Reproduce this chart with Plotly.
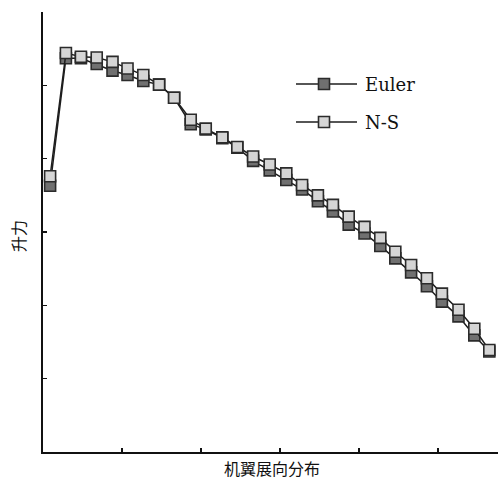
import plotly.graph_objects as go

# ---- data ----
span_pos = [0.09, 0.29, 0.48, 0.68, 0.88, 1.07, 1.27, 1.47, 1.66, 1.87,
            2.06, 2.27, 2.46, 2.66, 2.87, 3.08, 3.28, 3.48, 3.67, 3.87,
            4.07, 4.27, 4.46, 4.66, 4.86, 5.05, 5.26, 5.46, 5.65]
lift_euler = [3.63, 5.37, 5.37, 5.29, 5.20, 5.14, 5.06, 5.01, 4.83, 4.47,
              4.40, 4.28, 4.15, 3.97, 3.84, 3.71, 3.58, 3.42, 3.28, 3.10,
              2.98, 2.81, 2.64, 2.45, 2.26, 2.05, 1.85, 1.59, 1.37]
lift_ns = [3.76, 5.44, 5.39, 5.38, 5.32, 5.23, 5.14, 5.01, 4.83, 4.53,
           4.41, 4.29, 4.16, 4.03, 3.92, 3.80, 3.64, 3.50, 3.37, 3.21,
           3.07, 2.92, 2.73, 2.55, 2.37, 2.16, 1.94, 1.68, 1.39]
x_ticks = [0, 1, 2, 3, 4, 5]
y_ticks = [0, 1, 2, 3, 4, 5, 6]
series_names = ["Euler", "N-S"]
x_title = "机翼展向分布"
y_title = "升力"

# ---- style ----
W, H = 498, 480
ML, MR, MT, MB = 43, 0, 12, 28
LINE_C = "#1e1e1e"
EDGE_C = "#2b2b2b"
FILL = {"Euler": "#707070", "N-S": "#d5d5d5"}
CJK = "Noto Sans CJK SC"


def px_x(px):
    return (px - ML) / (W - ML - MR)


def px_y(py):
    return (H - MB - py) / (H - MT - MB)


fig = go.Figure()
for name, vals in zip(series_names, [lift_euler, lift_ns]):
    fig.add_trace(go.Scatter(
        x=span_pos, y=vals, mode="lines+markers", name=name,
        line=dict(color=LINE_C, width=1.5),
        marker=dict(symbol="square", size=11, color=FILL[name],
                    line=dict(color=EDGE_C, width=1.6)),
        showlegend=False,
    ))

axis_common = dict(showline=True, linecolor="#111", linewidth=1.6,
                   ticks="inside", ticklen=4, tickwidth=1.3, tickcolor="#111",
                   showticklabels=False, showgrid=False, zeroline=False,
                   mirror=False)

fig.update_layout(
    width=W, height=H,
    margin=dict(l=ML, r=MR, t=MT, b=MB),
    paper_bgcolor="white", plot_bgcolor="white",
    xaxis=dict(range=[0, 5.76], tickvals=x_ticks, **axis_common),
    yaxis=dict(range=[0, 6], tickvals=y_ticks, **axis_common),
)

# axis titles
fig.add_annotation(text=x_title, xref="paper", yref="paper",
                   x=px_x(272), y=px_y(468), xanchor="center", yanchor="middle",
                   showarrow=False, borderpad=0,
                   font=dict(family=CJK, size=16, color="#111"))
fig.add_annotation(text=y_title, xref="paper", yref="paper",
                   x=px_x(18), y=px_y(236), xanchor="center", yanchor="middle",
                   textangle=-90, showarrow=False, borderpad=0,
                   font=dict(family=CJK, size=16, color="#111"))

# custom legend
for name, ly in zip(series_names, [84, 122]):
    fig.add_shape(type="line", xref="paper", yref="paper",
                  x0=px_x(296), x1=px_x(357), y0=px_y(ly), y1=px_y(ly),
                  line=dict(color=LINE_C, width=1.5))
    fig.add_shape(type="rect", xref="paper", yref="paper",
                  xsizemode="pixel", ysizemode="pixel",
                  xanchor=px_x(324), yanchor=px_y(ly),
                  x0=-5.5, x1=5.5, y0=-5.5, y1=5.5,
                  fillcolor=FILL[name], line=dict(color=EDGE_C, width=1.6))
    fig.add_annotation(text=name, xref="paper", yref="paper",
                       x=px_x(363), y=px_y(ly), xanchor="left", yanchor="middle",
                       showarrow=False,
                       font=dict(family="DejaVu Serif", size=18, color="#111"))

fig.write_html("out.html",
               config={"displayModeBar": False, "staticPlot": True},
               post_script="document.body.style.margin='0';"
                           "document.body.style.padding='0';"
                           "document.body.style.overflow='hidden';")
